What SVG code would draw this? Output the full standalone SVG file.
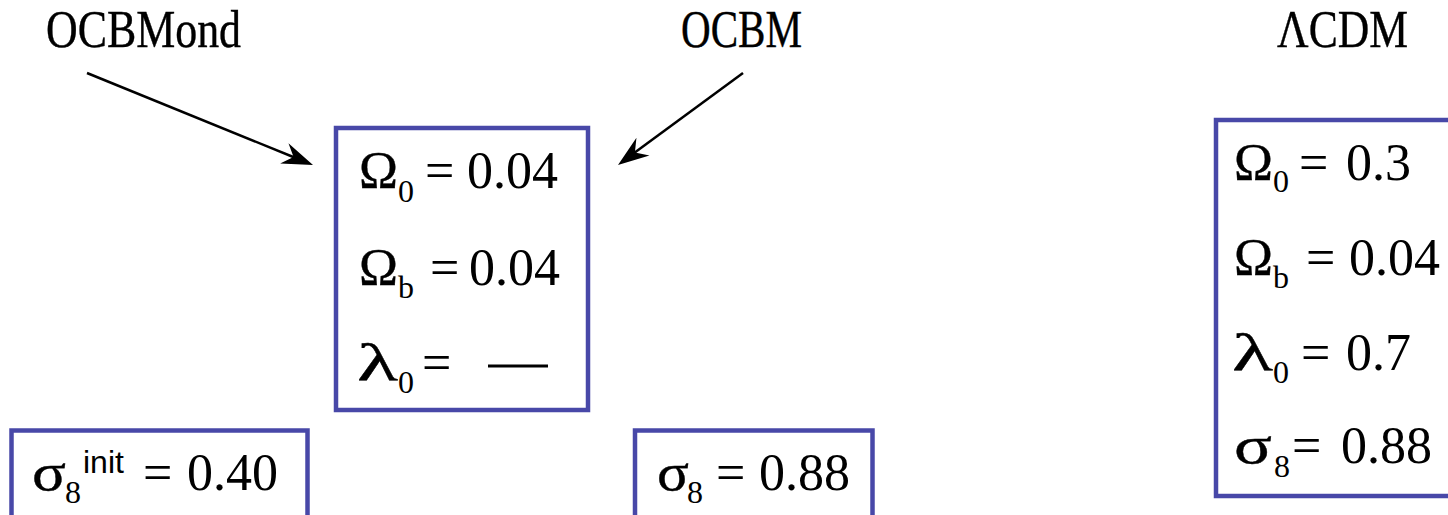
<svg xmlns="http://www.w3.org/2000/svg" width="1448" height="515" viewBox="0 0 1448 515">
<defs>
<style>
.box{fill:none;stroke:#4848a8;stroke-width:4.5}
.lbl{font-family:"Liberation Serif","Times New Roman",serif;font-size:53px;fill:#000;stroke:#000;stroke-width:0.4}
.m{font-family:"Liberation Serif","Times New Roman",serif;font-size:52px;fill:#000}
.g{font-family:"Liberation Serif","Times New Roman",serif;font-size:52px;fill:#000;stroke:#000;stroke-width:0.35}
.s{font-family:"Liberation Serif","Times New Roman",serif;font-size:32px;fill:#000}
.sup{font-family:"Liberation Sans",Arial,sans-serif;font-size:32px;fill:#000}
.conn{stroke:#000;stroke-width:2.5;fill:none;marker-end:url(#ah)}
</style>
<marker id="ah" markerUnits="userSpaceOnUse" viewBox="-32 -12 34 24" refX="-20" refY="0" markerWidth="34" markerHeight="24" orient="auto">
<path d="M0,0 L-31,-11 L-21,0 L-31,11 Z" fill="#000"/>
</marker>
</defs>

<g id="label-ocbmond"><text class="lbl" x="46" y="47" textLength="195" lengthAdjust="spacingAndGlyphs">OCBMond</text></g>
<g id="label-ocbm"><text class="lbl" x="681" y="47" textLength="121" lengthAdjust="spacingAndGlyphs">OCBM</text></g>
<g id="label-lcdm"><text class="lbl" x="1277" y="47" textLength="131" lengthAdjust="spacingAndGlyphs">ΛCDM</text></g>

<g id="connectors">
<line class="conn" x1="87" y1="73" x2="294.5" y2="157.5"/>
<line class="conn" x1="743" y1="73" x2="634.1" y2="153.1"/>
</g>

<g id="box-center">
<rect class="box" x="336" y="128" width="252" height="282"/>
<text class="g" x="359" y="188" textLength="39" lengthAdjust="spacingAndGlyphs">Ω</text>
<text class="s" x="398" y="202">0</text>
<text class="m" y="188"><tspan x="425">=</tspan><tspan x="467">0.04</tspan></text>
<text class="g" x="359" y="285" textLength="39" lengthAdjust="spacingAndGlyphs">Ω</text>
<text class="s" x="398" y="298">b</text>
<text class="m" y="285"><tspan x="430">=</tspan><tspan x="469">0.04</tspan></text>
<text class="g" x="357" y="380" textLength="41" lengthAdjust="spacingAndGlyphs">λ</text>
<text class="s" x="398" y="393">0</text>
<text class="m" x="422" y="380">=</text>
<line x1="488" y1="366" x2="548" y2="366" stroke="#000" stroke-width="3"/>
</g>

<g id="box-right">
<rect class="box" x="1216" y="120" width="300" height="376"/>
<text class="g" x="1234" y="180" textLength="39" lengthAdjust="spacingAndGlyphs">Ω</text>
<text class="s" x="1273" y="192">0</text>
<text class="m" y="180"><tspan x="1299">=</tspan><tspan x="1346">0.3</tspan></text>
<text class="g" x="1234" y="275" textLength="39" lengthAdjust="spacingAndGlyphs">Ω</text>
<text class="s" x="1273" y="288">b</text>
<text class="m" y="275"><tspan x="1306">=</tspan><tspan x="1349">0.04</tspan></text>
<text class="g" x="1232" y="370" textLength="41" lengthAdjust="spacingAndGlyphs">λ</text>
<text class="s" x="1273" y="383">0</text>
<text class="m" y="370"><tspan x="1301">=</tspan><tspan x="1346">0.7</tspan></text>
<text class="g" x="1234" y="463" textLength="38" lengthAdjust="spacingAndGlyphs">σ</text>
<text class="s" x="1274" y="477">8</text>
<text class="m" y="463"><tspan x="1292">=</tspan><tspan x="1341">0.88</tspan></text>
</g>

<g id="box-bottom-left">
<rect class="box" x="11.5" y="430.5" width="296" height="120"/>
<text class="g" x="32" y="490" textLength="34" lengthAdjust="spacingAndGlyphs">σ</text>
<text class="s" x="65" y="503">8</text>
<text class="sup" x="83" y="473">init</text>
<text class="m" y="490"><tspan x="143">=</tspan><tspan x="187">0.40</tspan></text>
</g>

<g id="box-bottom-mid">
<rect class="box" x="635" y="430.5" width="237.5" height="120"/>
<text class="g" x="657" y="490" textLength="32" lengthAdjust="spacingAndGlyphs">σ</text>
<text class="s" x="687" y="503">8</text>
<text class="m" y="490"><tspan x="716">=</tspan><tspan x="759">0.88</tspan></text>
</g>
</svg>
